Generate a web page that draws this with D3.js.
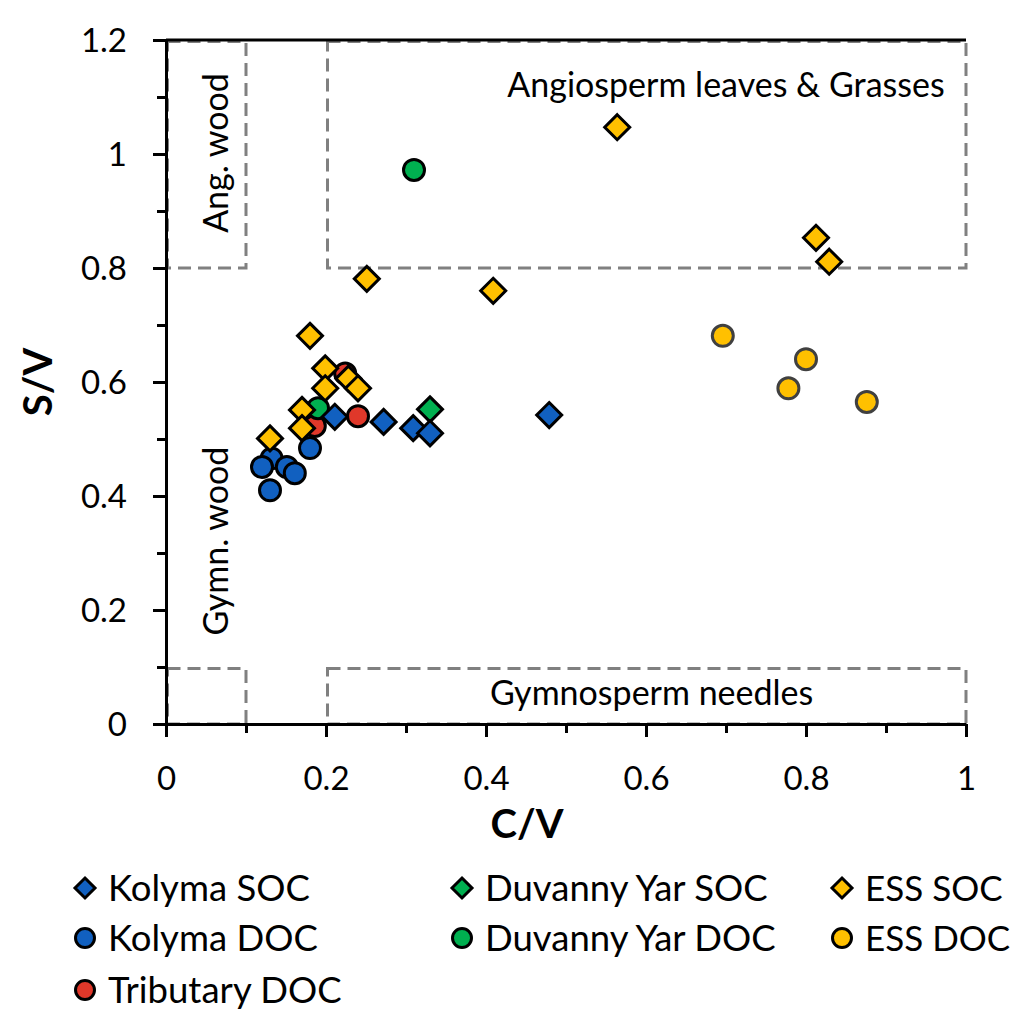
<!DOCTYPE html>
<html>
<head>
<meta charset="utf-8">
<script src="https://cdn.jsdelivr.net/npm/d3@7"></script>
<style>
  body { margin: 0; background: #fff; }
  text { font-family: Lato, "Open Sans", sans-serif; fill: #000; }
</style>
</head>
<body>
<script>
// series data (C/V, S/V)
var kolymaSOC = [[0.211, 0.539], [0.272, 0.530], [0.309, 0.519], [0.330, 0.510], [0.479, 0.542]];
var kolymaDOC = [[0.180, 0.484], [0.132, 0.466], [0.120, 0.451], [0.151, 0.451], [0.161, 0.440], [0.130, 0.410]];
var tributaryDOC = [[0.224, 0.615], [0.240, 0.540], [0.186, 0.523]];
var duvannySOC = [[0.330, 0.552]];
var duvannyDOC = [[0.310, 0.972], [0.190, 0.554]];
var essSOC = [[0.564, 1.047], [0.8125, 0.853], [0.829, 0.811], [0.251, 0.781], [0.409, 0.760],
              [0.180, 0.681], [0.199, 0.624], [0.228, 0.606], [0.240, 0.589], [0.199, 0.589],
              [0.170, 0.551], [0.170, 0.519], [0.130, 0.501]];
var essDOC = [[0.696, 0.681], [0.800, 0.640], [0.778, 0.589], [0.876, 0.565]];

var xTicks = [0, 0.2, 0.4, 0.6, 0.8, 1];
var yTicks = [0, 0.2, 0.4, 0.6, 0.8, 1, 1.2];
var xMinor = [0.1, 0.3, 0.5, 0.7, 0.9];
var yMinor = [0.1, 0.3, 0.5, 0.7, 0.9, 1.1];

// source boxes [x0, x1, y0, y1]
var boxes = [[0, 0.1, 0.8, 1.2], [0.2, 1, 0.8, 1.2], [0, 0.1, 0, 0.1], [0.2, 1, 0, 0.1]];

var margin = {top: 40, right: 62, bottom: 304, left: 166},
    width = 1028 - margin.left - margin.right,
    height = 1028 - margin.top - margin.bottom;

var x = d3.scaleLinear().domain([0, 1]).range([0, width]);
var y = d3.scaleLinear().domain([0, 1.2]).range([height, 0]);

var svg = d3.select("body").append("svg")
    .attr("width", 1028)
    .attr("height", 1028)
    .append("g")
    .attr("transform", "translate(" + margin.left + "," + margin.top + ")");

// dashed boxes
svg.selectAll("rect.box")
    .data(boxes)
    .enter()
    .append("rect")
    .attr("class", "box")
    .attr("x", function (d) { return x(d[0]) + 1.5; })
    .attr("y", function (d) { return y(d[3]) + 1.5; })
    .attr("width", function (d) { return x(d[1]) - x(d[0]) - 1.5; })
    .attr("height", function (d) { return y(d[2]) - y(d[3]) - 1.5; })
    .attr("fill", "none")
    .attr("stroke", "#808080")
    .attr("stroke-width", 3)
    .attr("stroke-dasharray", "13,7");

// top border
svg.append("line")
    .attr("x1", x(0)).attr("x2", x(1))
    .attr("y1", y(1.2)).attr("y2", y(1.2))
    .attr("stroke", "#000")
    .attr("stroke-width", 3);

// box labels
svg.append("text")
    .attr("x", x(0.7)).attr("y", 57)
    .attr("text-anchor", "middle")
    .style("font-size", "34px")
    .text("Angiosperm leaves & Grasses");

svg.append("text")
    .attr("x", x(0.607)).attr("y", y(0.033))
    .attr("text-anchor", "middle")
    .style("font-size", "34px")
    .text("Gymnosperm needles");

svg.append("text")
    .attr("transform", "translate(62," + (153 - margin.top) + ") rotate(-90)")
    .attr("text-anchor", "middle")
    .style("font-size", "34px")
    .text("Ang. wood");

svg.append("text")
    .attr("transform", "translate(62," + (541 - margin.top) + ") rotate(-90)")
    .attr("text-anchor", "middle")
    .style("font-size", "34px")
    .text("Gymn. wood");

// axes
var xAxis = svg.append("g")
    .attr("transform", "translate(0," + height + ")")
    .call(d3.axisBottom(x).tickValues(xTicks).tickSize(13).tickSizeOuter(0)
        .tickFormat(function (d) { return d3.format("")(d); }));
xAxis.selectAll("text").attr("y", 66).attr("dy", 0).style("font-size", "33px");

svg.append("g")
    .attr("transform", "translate(0," + height + ")")
    .call(d3.axisBottom(x).tickValues(xMinor).tickSize(9).tickFormat(""))
    .select(".domain").remove();

var yAxis = svg.append("g")
    .call(d3.axisLeft(y).tickValues(yTicks).tickSize(13).tickSizeOuter(0).tickPadding(26)
        .tickFormat(function (d) { return d3.format("")(+d.toFixed(1)); }));
yAxis.selectAll("text").attr("dy", "0.36em").style("font-size", "33px");

svg.append("g")
    .call(d3.axisLeft(y).tickValues(yMinor).tickSize(9).tickFormat(""))
    .select(".domain").remove();

svg.selectAll(".domain, .tick line").attr("stroke", "#000").attr("stroke-width", 3);
svg.selectAll(".tick text").style("font-family", "Lato, sans-serif");

// axis titles
svg.append("text")
    .attr("x", 527 - margin.left).attr("y", 838 - margin.top)
    .attr("text-anchor", "middle")
    .style("font-size", "40px")
    .style("font-weight", "bold")
    .text("C/V");

svg.append("text")
    .attr("transform", "translate(" + (52 - margin.left) + "," + (382 - margin.top) + ") rotate(-90)")
    .attr("text-anchor", "middle")
    .style("font-size", "40px")
    .style("font-weight", "bold")
    .text("S/V");

// markers
var diamond = function (s) { return "M0," + (-s) + "L" + s + ",0L0," + s + "L" + (-s) + ",0Z"; };

function drawSeries(data, shape, fill, stroke) {
    var g = svg.append("g");
    if (shape == "circle") {
        g.selectAll("circle")
            .data(data)
            .enter()
            .append("circle")
            .attr("cx", function (d) { return x(d[0]); })
            .attr("cy", function (d) { return y(d[1]); })
            .attr("r", 10.5)
            .attr("fill", fill)
            .attr("stroke", stroke)
            .attr("stroke-width", 3);
    } else {
        g.selectAll("path")
            .data(data)
            .enter()
            .append("path")
            .attr("transform", function (d) { return "translate(" + x(d[0]) + "," + y(d[1]) + ")"; })
            .attr("d", diamond(12.5))
            .attr("fill", fill)
            .attr("stroke", stroke)
            .attr("stroke-width", 3)
            .attr("stroke-linejoin", "miter");
    }
}

var blue = "#1160C0", green = "#00B050", yellow = "#FFC000", red = "#E0382A";

drawSeries(tributaryDOC, "circle", red, "#000");
drawSeries(duvannyDOC, "circle", green, "#000");
drawSeries(duvannySOC, "diamond", green, "#000");
drawSeries(kolymaDOC, "circle", blue, "#000");
drawSeries(kolymaSOC, "diamond", blue, "#000");
drawSeries(essDOC, "circle", yellow, "#404040");
drawSeries(essSOC, "diamond", yellow, "#000");

// legend
var legendItems = [
    {name: "Kolyma SOC", shape: "diamond", fill: blue, stroke: "#000", col: 0, row: 0},
    {name: "Duvanny Yar SOC", shape: "diamond", fill: green, stroke: "#000", col: 1, row: 0},
    {name: "ESS SOC", shape: "diamond", fill: yellow, stroke: "#000", col: 2, row: 0},
    {name: "Kolyma DOC", shape: "circle", fill: blue, stroke: "#000", col: 0, row: 1},
    {name: "Duvanny Yar DOC", shape: "circle", fill: green, stroke: "#000", col: 1, row: 1},
    {name: "ESS DOC", shape: "circle", fill: yellow, stroke: "#000", col: 2, row: 1},
    {name: "Tributary DOC", shape: "circle", fill: red, stroke: "#000", col: 0, row: 2}
];
var colX = [85, 462, 842], rowY = [888, 938, 990];

var legend = d3.select("svg").append("g");
var li = legend.selectAll("g")
    .data(legendItems)
    .enter()
    .append("g")
    .attr("transform", function (d) { return "translate(" + colX[d.col] + "," + rowY[d.row] + ")"; });

li.filter(function (d) { return d.shape == "diamond"; })
    .append("path")
    .attr("d", diamond(10))
    .attr("fill", function (d) { return d.fill; })
    .attr("stroke", function (d) { return d.stroke; })
    .attr("stroke-width", 3);

li.filter(function (d) { return d.shape == "circle"; })
    .append("circle")
    .attr("r", 9.5)
    .attr("fill", function (d) { return d.fill; })
    .attr("stroke", function (d) { return d.stroke; })
    .attr("stroke-width", 3);

li.append("text")
    .attr("x", 23)
    .attr("dy", "0.36em")
    .style("font-size", function (d) { return d.col == 2 ? "35px" : "36.5px"; })
    .text(function (d) { return d.name; });
</script>
</body>
</html>
